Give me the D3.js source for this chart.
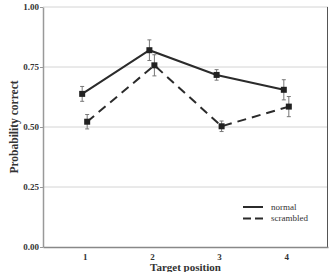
<!DOCTYPE html>
<html>
<head>
<meta charset="utf-8">
<script src="https://cdn.jsdelivr.net/npm/d3@7"></script>
<style>
  body { margin: 0; background: #fff; }
  svg { display: block; font-family: "Liberation Serif", "Times New Roman", serif; }
</style>
</head>
<body>
<div id="chart"></div>
<script>
// data
var positions = ["1", "2", "3", "4"];
var normal = [0.638, 0.820, 0.717, 0.655];
var normalErr = [0.031, 0.043, 0.022, 0.042];
var scrambled = [0.522, 0.757, 0.503, 0.585];
var scrambledErr = [0.030, 0.044, 0.022, 0.042];
var yTicks = [0, 0.25, 0.5, 0.75, 1];

var W = 331, H = 272;
var margin = {top: 7, right: 3, bottom: 25, left: 43};
var width = W - margin.left - margin.right;
var height = H - margin.top - margin.bottom;

var x = d3.scalePoint().domain(positions).range([0, width]).padding(0.62);
var y = d3.scaleLinear().domain([0, 1]).range([height, 0]);

var svg = d3.select("#chart").append("svg")
    .attr("width", W)
    .attr("height", H);

var chart = svg.append("g")
    .attr("transform", "translate(" + margin.left + "," + margin.top + ")");

// gridlines
chart.append("g")
    .selectAll("line")
    .data(yTicks.slice(1))
    .enter().append("line")
    .attr("x1", 0).attr("x2", width)
    .attr("y1", function (d) { return y(d); })
    .attr("y2", function (d) { return y(d); })
    .style("stroke", "#d4d4d4")
    .style("stroke-width", 1);

// right border
chart.append("line")
    .attr("x1", width - 0.5).attr("x2", width - 0.5)
    .attr("y1", 0).attr("y2", height)
    .style("stroke", "#555")
    .style("stroke-width", 1);

// axes
var yAxis = chart.append("g")
    .call(d3.axisLeft(y).tickValues(yTicks).tickFormat(d3.format(".2f")).tickSize(3).tickSizeOuter(0));
yAxis.select(".domain").style("stroke", "#999").style("stroke-width", 1.5);
yAxis.selectAll(".tick line").style("stroke", "#999");
yAxis.selectAll("text")
    .attr("x", -4)
    .style("font-family", "Liberation Serif")
    .style("font-size", "9px")
    .style("font-weight", "bold")
    .style("fill", "#333");

var xAxis = chart.append("g")
    .attr("transform", "translate(0," + height + ")")
    .call(d3.axisBottom(x).tickSize(0).tickSizeOuter(0));
xAxis.select(".domain").style("stroke", "#888").style("stroke-width", 1.5);
xAxis.selectAll("text")
    .attr("y", 7)
    .style("font-family", "Liberation Serif")
    .style("font-size", "9px")
    .style("font-weight", "bold")
    .style("fill", "#333");

// series
var series = [
    {name: "normal", values: normal, err: normalErr, dx: -2.5, dash: null},
    {name: "scrambled", values: scrambled, err: scrambledErr, dx: 2.5, dash: "9,6"}
];

series.forEach(function (s) {
    var pts = positions.map(function (p, i) {
        return {x: x(p) + s.dx, v: s.values[i], e: s.err[i]};
    });

    var line = d3.line()
        .x(function (d) { return d.x; })
        .y(function (d) { return y(d.v); });

    chart.append("path")
        .datum(pts)
        .attr("d", line)
        .style("fill", "none")
        .style("stroke", "#2b2b2b")
        .style("stroke-width", 2)
        .style("stroke-dasharray", s.dash);

    var eb = chart.append("g").selectAll("g")
        .data(pts)
        .enter().append("g");

    eb.append("line")
        .attr("x1", function (d) { return d.x; })
        .attr("x2", function (d) { return d.x; })
        .attr("y1", function (d) { return y(d.v - d.e); })
        .attr("y2", function (d) { return y(d.v + d.e); })
        .style("stroke", "#777")
        .style("stroke-width", 1);

    [-1, 1].forEach(function (sign) {
        eb.append("line")
            .attr("x1", function (d) { return d.x - 2; })
            .attr("x2", function (d) { return d.x + 2; })
            .attr("y1", function (d) { return y(d.v + sign * d.e); })
            .attr("y2", function (d) { return y(d.v + sign * d.e); })
            .style("stroke", "#777")
            .style("stroke-width", 1);
    });

    eb.append("rect")
        .attr("x", function (d) { return d.x - 3; })
        .attr("y", function (d) { return y(d.v) - 3; })
        .attr("width", 6)
        .attr("height", 6)
        .style("fill", "#222");
});

// legend
var legend = chart.append("g")
    .attr("transform", "translate(" + (243 - margin.left) + "," + (207 - margin.top) + ")");

series.forEach(function (s, i) {
    legend.append("line")
        .attr("x1", 0).attr("x2", 20)
        .attr("y1", i * 11.5).attr("y2", i * 11.5)
        .style("stroke", "#2b2b2b")
        .style("stroke-width", 2)
        .style("stroke-dasharray", s.dash ? "8,4" : null);
    legend.append("text")
        .attr("x", 28)
        .attr("y", i * 11.5)
        .attr("dy", "0.32em")
        .style("font-size", "9px")
        .style("fill", "#333")
        .text(s.name);
});

// axis titles
svg.append("text")
    .attr("transform", "translate(14," + (margin.top + height / 2) + ") rotate(-90)")
    .attr("dy", "0.32em")
    .style("text-anchor", "middle")
    .style("font-size", "11.5px")
    .style("font-weight", "bold")
    .style("fill", "#333")
    .text("Probability correct");

svg.append("text")
    .attr("x", margin.left + width / 2)
    .attr("y", 271)
    .style("text-anchor", "middle")
    .style("font-size", "11px")
    .style("font-weight", "bold")
    .style("fill", "#333")
    .text("Target position");
</script>
</body>
</html>
